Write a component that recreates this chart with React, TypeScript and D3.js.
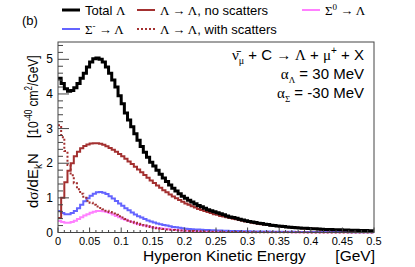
import React from 'react';
import * as d3 from 'd3';

// bin width 0.005 GeV, 100 bins from 0 to 0.5
const binLow = d3.range(0, 100).map(i => i * 0.005);

const totalLambda = [
  4.45, 4.3, 4.15, 4.08, 4.1, 4.18, 4.3, 4.45, 4.6, 4.78,
  4.92, 5.02, 5.04, 5.0, 4.92, 4.78, 4.6, 4.4, 4.2, 3.95,
  3.72, 3.45, 3.25, 3.05, 2.85, 2.66, 2.48, 2.32, 2.17, 2.03,
  1.92, 1.8, 1.68, 1.57, 1.47, 1.37, 1.28, 1.2, 1.12, 1.05,
  0.99, 0.93, 0.88, 0.83, 0.78, 0.74, 0.7, 0.66, 0.63, 0.6,
  0.57, 0.54, 0.51, 0.48, 0.45, 0.43, 0.41, 0.38, 0.36, 0.34,
  0.32, 0.3, 0.29, 0.27, 0.26, 0.24, 0.23, 0.21, 0.2, 0.19,
  0.18, 0.17, 0.16, 0.15, 0.145, 0.14, 0.13, 0.125, 0.12, 0.115,
  0.11, 0.105, 0.1, 0.095, 0.09, 0.088, 0.085, 0.082, 0.08, 0.077,
  0.074, 0.071, 0.068, 0.065, 0.062, 0.06, 0.057, 0.055, 0.052, 0.05,
];

const lambdaNoScat = [
  0.42, 1.0, 1.45, 1.78, 2.0, 2.2, 2.33, 2.43, 2.5, 2.54,
  2.57, 2.58, 2.58, 2.56, 2.53, 2.49, 2.44, 2.39, 2.33, 2.27,
  2.2, 2.13, 2.05, 1.98, 1.9, 1.82, 1.74, 1.66, 1.58, 1.5,
  1.43, 1.36, 1.29, 1.22, 1.16, 1.1, 1.04, 0.99, 0.94, 0.89,
  0.84, 0.8, 0.76, 0.72, 0.68, 0.65, 0.62, 0.59, 0.56, 0.53,
  0.51, 0.48, 0.46, 0.44, 0.42, 0.4, 0.38, 0.36, 0.34, 0.32,
  0.3, 0.285, 0.27, 0.255, 0.24, 0.23, 0.22, 0.205, 0.195, 0.185,
  0.175, 0.165, 0.157, 0.15, 0.142, 0.135, 0.128, 0.12, 0.115, 0.11,
  0.105, 0.1, 0.095, 0.09, 0.086, 0.082, 0.078, 0.075, 0.072, 0.069,
  0.066, 0.063, 0.06, 0.057, 0.055, 0.052, 0.05, 0.048, 0.046, 0.044,
];

const lambdaScat = [
  3.1, 2.75, 2.35, 1.95, 1.65, 1.42, 1.25, 1.12, 1.0, 0.92,
  0.86, 0.8, 0.75, 0.71, 0.67, 0.63, 0.59, 0.55, 0.51, 0.47,
  0.43, 0.39, 0.35, 0.31, 0.28, 0.25, 0.22, 0.2, 0.18, 0.16,
  0.14, 0.12, 0.11, 0.1, 0.09, 0.08, 0.07, 0.065, 0.06, 0.055,
  0.05, 0.045, 0.04, 0.037, 0.034, 0.031, 0.028, 0.026, 0.024, 0.022,
  0.02, 0.019, 0.018, 0.017, 0.016, 0.015, 0.014, 0.013, 0.012, 0.011,
  0.01, 0.01, 0.009, 0.009, 0.008, 0.008, 0.007, 0.007, 0.006, 0.006,
  0.006, 0.005, 0.005, 0.005, 0.004, 0.004, 0.004, 0.004, 0.003, 0.003,
  0.003, 0.003, 0.003, 0.002, 0.002, 0.002, 0.002, 0.002, 0.002, 0.002,
  0.002, 0.001, 0.001, 0.001, 0.001, 0.001, 0.001, 0.001, 0.001, 0.001,
];

const sigmaMinus = [
  0.62, 0.56, 0.53, 0.53, 0.56, 0.62, 0.7, 0.8, 0.9, 0.99,
  1.06, 1.12, 1.16, 1.17, 1.15, 1.11, 1.05, 0.98, 0.91, 0.84,
  0.77, 0.7, 0.64, 0.58, 0.52, 0.47, 0.43, 0.39, 0.35, 0.32,
  0.29, 0.26, 0.24, 0.22, 0.2, 0.18, 0.16, 0.15, 0.14, 0.12,
  0.11, 0.1, 0.095, 0.09, 0.085, 0.08, 0.075, 0.07, 0.066, 0.062,
  0.058, 0.055, 0.052, 0.049, 0.046, 0.044, 0.042, 0.04, 0.038, 0.036,
  0.034, 0.032, 0.031, 0.03, 0.028, 0.027, 0.026, 0.025, 0.024, 0.023,
  0.022, 0.021, 0.02, 0.02, 0.019, 0.018, 0.018, 0.017, 0.016, 0.016,
  0.015, 0.015, 0.014, 0.014, 0.013, 0.013, 0.012, 0.012, 0.012, 0.011,
  0.011, 0.011, 0.01, 0.01, 0.01, 0.01, 0.009, 0.009, 0.009, 0.009,
];

const sigmaZero = [
  0.33, 0.3, 0.28, 0.28, 0.3, 0.34, 0.39, 0.44, 0.49, 0.53,
  0.57, 0.6, 0.62, 0.62, 0.61, 0.59, 0.56, 0.52, 0.48, 0.44,
  0.4, 0.37, 0.33, 0.3, 0.27, 0.24, 0.22, 0.2, 0.18, 0.16,
  0.14, 0.13, 0.12, 0.11, 0.1, 0.09, 0.08, 0.07, 0.065, 0.06,
  0.055, 0.05, 0.047, 0.044, 0.041, 0.038, 0.036, 0.034, 0.032, 0.03,
  0.028, 0.027, 0.026, 0.025, 0.024, 0.023, 0.022, 0.021, 0.02, 0.019,
  0.018, 0.017, 0.017, 0.016, 0.015, 0.015, 0.014, 0.014, 0.013, 0.013,
  0.012, 0.012, 0.011, 0.011, 0.01, 0.01, 0.01, 0.009, 0.009, 0.009,
  0.008, 0.008, 0.008, 0.008, 0.007, 0.007, 0.007, 0.007, 0.006, 0.006,
  0.006, 0.006, 0.006, 0.005, 0.005, 0.005, 0.005, 0.005, 0.005, 0.005,
];

const xTicks = [0, 0.05, 0.1, 0.15, 0.2, 0.25, 0.3, 0.35, 0.4, 0.45, 0.5];
const yTicks = [0, 1, 2, 3, 4, 5];

const W = 415;
const H = 267;
const sans = 'Liberation Sans, Arial, Helvetica, sans-serif';
const serif = 'Liberation Serif, Times New Roman, serif';

export default function App() {
  const x = d3.scaleLinear().domain([0, 0.5]).range([58, 374]);
  const y = d3.scaleLinear().domain([0, 5.5]).range([232.5, 42]);

  const step = (vals: number[]) => {
    const pts: [number, number][] = vals.map((v, i) => [binLow[i], v]);
    pts.push([0.5, vals[vals.length - 1]]);
    return d3.line<[number, number]>()
      .x(d => x(d[0]))
      .y(d => y(d[1]))
      .curve(d3.curveStepAfter)(pts) || '';
  };

  const series = [
    { vals: sigmaZero, color: '#ff80ff', width: 2, dash: undefined },
    { vals: sigmaMinus, color: '#6464ff', width: 2, dash: undefined },
    { vals: lambdaScat, color: '#a33030', width: 2, dash: '2,2' },
    { vals: lambdaNoScat, color: '#a33030', width: 2, dash: undefined },
    { vals: totalLambda, color: '#000000', width: 3, dash: undefined },
  ];

  const xMinor = d3.range(0, 51).map(i => i * 0.01);
  const yMinor = d3.range(0, 28).map(i => i * 0.2);

  return (
    <svg width={W} height={H} style={{ position: 'absolute', left: 0, top: 0, background: 'white' }}>
      <rect width={W} height={H} fill="white" />
      <text x={22} y={25} fontFamily={sans} fontSize={13}>(b)</text>

      {/* legend */}
      <g fontFamily={sans} fontSize={13}>
        <line x1={62} x2={80} y1={10} y2={10} stroke="#000" strokeWidth={3} />
        <text x={85} y={15}>Total <tspan fontFamily={serif}>Λ</tspan></text>
        <line x1={137} x2={155} y1={10} y2={10} stroke="#a33030" strokeWidth={2} />
        <text x={160} y={15}><tspan fontFamily={serif}>Λ → Λ</tspan>, no scatters</text>
        <line x1={302} x2={320} y1={10} y2={10} stroke="#ff80ff" strokeWidth={2} />
        <text x={325} y={15} fontFamily={serif}>Σ<tspan dy={-5} fontSize={9}>0</tspan><tspan dy={5}> → Λ</tspan></text>
        <line x1={62} x2={80} y1={29} y2={29} stroke="#6464ff" strokeWidth={2} />
        <text x={85} y={34} fontFamily={serif}>Σ<tspan dy={-5} fontSize={9}>-</tspan><tspan dy={5}> → Λ</tspan></text>
        <line x1={137} x2={155} y1={29} y2={29} stroke="#a33030" strokeWidth={2} strokeDasharray="2,2" />
        <text x={160} y={34}><tspan fontFamily={serif}>Λ → Λ</tspan>, with scatters</text>
      </g>

      {/* histograms */}
      <g fill="none">
        {series.map((s, i) => (
          <path key={i} d={step(s.vals)} stroke={s.color} strokeWidth={s.width}
            strokeDasharray={s.dash} strokeLinejoin="miter" />
        ))}
      </g>

      {/* frame */}
      <rect x={58} y={42} width={316} height={190.5} fill="none" stroke="#444" strokeWidth={1} />

      {/* ticks */}
      <g stroke="#444" strokeWidth={1}>
        {yMinor.map((v, i) => (
          <line key={'ym' + i} x1={58} x2={i % 5 === 0 ? 69 : 63} y1={y(v)} y2={y(v)} />
        ))}
        {xMinor.map((v, i) => (
          <line key={'xm' + i} x1={x(v)} x2={x(v)} y1={232.5} y2={i % 5 === 0 ? 227.5 : 230} />
        ))}
      </g>
      <g fontFamily={sans} fontSize={11} fill="#000">
        {yTicks.map(t => (
          <text key={'yl' + t} x={53} y={y(t) + 4} textAnchor="end" fontSize={12}>{t}</text>
        ))}
        {xTicks.map(t => (
          <text key={'xl' + t} x={x(t)} y={245} textAnchor="middle">{String(t)}</text>
        ))}
      </g>

      {/* axis titles */}
      <g fontFamily={sans} fontSize={15.5}>
        <text x={143} y={261}>Hyperon Kinetic Energy</text>
        <text x={375} y={261} textAnchor="end">[GeV]</text>
      </g>
      <g fontFamily={sans} fontSize={15}>
        <text transform="translate(38,208) rotate(-90)">
          d<tspan fontFamily={serif}>σ</tspan>/dE<tspan dy={4} fontSize={10}>k</tspan><tspan dy={-4}>N</tspan>
        </text>
        <g transform="translate(38,138) rotate(-90) scale(0.8,1)">
          <text>
            [10<tspan dy={-6} fontSize={10}>-40</tspan><tspan dy={6}> cm</tspan>
            <tspan dy={-6} fontSize={10}>2</tspan><tspan dy={6}>/GeV]</tspan>
          </text>
        </g>
      </g>

      {/* annotation */}
      <g fontFamily={sans} fontSize={15} textAnchor="end">
        <text x={364} y={60}>
          <tspan fontFamily={serif}>ν̄</tspan><tspan dy={4} fontSize={10} fontFamily={serif}>μ</tspan>
          <tspan dy={-4}> + C </tspan><tspan fontFamily={serif}>→ Λ</tspan> + <tspan fontFamily={serif}>μ</tspan>
          <tspan dy={-6} fontSize={10}>+</tspan><tspan dy={6}> + X</tspan>
        </text>
        <text x={364} y={79}>
          <tspan fontFamily={serif}>α</tspan><tspan dy={4} fontSize={9} fontFamily={serif}>Λ</tspan><tspan dy={-4}> = 30 MeV</tspan>
        </text>
        <text x={364} y={98}>
          <tspan fontFamily={serif}>α</tspan><tspan dy={4} fontSize={9} fontFamily={serif}>Σ</tspan><tspan dy={-4}> = -30 MeV</tspan>
        </text>
      </g>
    </svg>
  );
}
